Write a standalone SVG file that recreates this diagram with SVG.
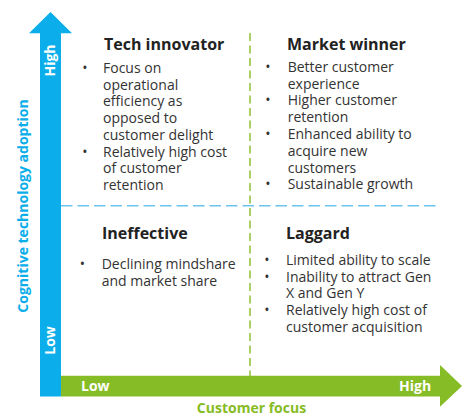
<svg xmlns="http://www.w3.org/2000/svg" width="467" height="416" viewBox="0 0 467 416">
<style>
.ttl{font-family:"Open Sans","Liberation Sans",sans-serif;font-weight:bold;font-size:16px;fill:#222}
.bt{font-family:"Open Sans","Liberation Sans",sans-serif;font-size:14px;fill:#333}
.bul{font-family:"Open Sans","Liberation Sans",sans-serif;font-size:14px;fill:#333;text-anchor:middle}
.ax{font-family:"Open Sans","Liberation Sans",sans-serif;font-weight:bold;font-size:14px;fill:#fff}
.lblb{font-family:"Open Sans","Liberation Sans",sans-serif;font-weight:bold;font-size:14px;fill:#0BAEEA}
.lblg{font-family:"Open Sans","Liberation Sans",sans-serif;font-weight:bold;font-size:14px;fill:#86BC25}
</style>
<rect width="467" height="416" fill="#fff"/>
<g id="connectors">
<line x1="61" y1="205.7" x2="440" y2="205.7" stroke="#6cc3ee" stroke-width="1.4" stroke-dasharray="11.5 5"/>
<line x1="250" y1="33" x2="250" y2="376" stroke="#86BC25" stroke-width="1.4" stroke-dasharray="8 4.5"/>
</g>
<g id="y-axis">
<polygon points="40,396.5 40,33.3 29,33.3 50.5,12 72,33.3 61,33.3 61,396.5" fill="#0BAEEA"/>
<text class="ax" transform="translate(55,60.5) rotate(-90)" text-anchor="middle">High</text>
<text class="ax" transform="translate(55,340.5) rotate(-90)" text-anchor="middle">Low</text>
<text class="lblb" transform="translate(27.5,206) rotate(-90)" text-anchor="middle">Cognitive technology adoption</text>
</g>
<g id="x-axis">
<polygon points="61,375.7 440,375.7 440,365 462,386 440,406.7 440,396.5 61,396.5" fill="#86BC25"/>
<text class="ax" x="81" y="391">Low</text>
<text class="ax" x="399" y="391">High</text>
<text class="lblg" x="251.5" y="413" text-anchor="middle">Customer focus</text>
</g>
<g id="tech-innovator">
<text class="ttl" x="104" y="49.5">Tech innovator</text>
<text class="bul" x="85" y="72.7">•</text>
<text class="bt" x="103" y="72.7">Focus on</text>
<text class="bt" x="103" y="89.5">operational</text>
<text class="bt" x="103" y="106.2">efficiency as</text>
<text class="bt" x="103" y="123">opposed to</text>
<text class="bt" x="103" y="139.8">customer delight</text>
<text class="bul" x="85" y="156.5">•</text>
<text class="bt" x="103" y="156.5">Relatively high cost</text>
<text class="bt" x="103" y="173.3">of customer</text>
<text class="bt" x="103" y="190">retention</text>
</g>
<g id="market-winner">
<text class="ttl" x="287" y="49.5">Market winner</text>
<text class="bul" x="268" y="71.7">•</text>
<text class="bt" x="287.7" y="71.7">Better customer</text>
<text class="bt" x="287.7" y="88.5">experience</text>
<text class="bul" x="268" y="105.3">•</text>
<text class="bt" x="287.7" y="105.3">Higher customer</text>
<text class="bt" x="287.7" y="122.1">retention</text>
<text class="bul" x="268" y="138.9">•</text>
<text class="bt" x="287.7" y="138.9">Enhanced ability to</text>
<text class="bt" x="287.7" y="155.7">acquire new</text>
<text class="bt" x="287.7" y="172.5">customers</text>
<text class="bul" x="268" y="189.3">•</text>
<text class="bt" x="287.7" y="189.3">Sustainable growth</text>
</g>
<g id="ineffective">
<text class="ttl" x="102" y="239">Ineffective</text>
<text class="bul" x="82.5" y="269">•</text>
<text class="bt" x="101.7" y="269">Declining mindshare</text>
<text class="bt" x="101.7" y="285.7">and market share</text>
</g>
<g id="laggard">
<text class="ttl" x="286" y="239">Laggard</text>
<text class="bul" x="267" y="265">•</text>
<text class="bt" x="286" y="265">Limited ability to scale</text>
<text class="bul" x="267" y="281.7">•</text>
<text class="bt" x="286" y="281.7">Inability to attract Gen</text>
<text class="bt" x="286" y="298.4">X and Gen Y</text>
<text class="bul" x="267" y="315.1">•</text>
<text class="bt" x="286" y="315.1">Relatively high cost of</text>
<text class="bt" x="286" y="331.8">customer acquisition</text>
</g>
</svg>
